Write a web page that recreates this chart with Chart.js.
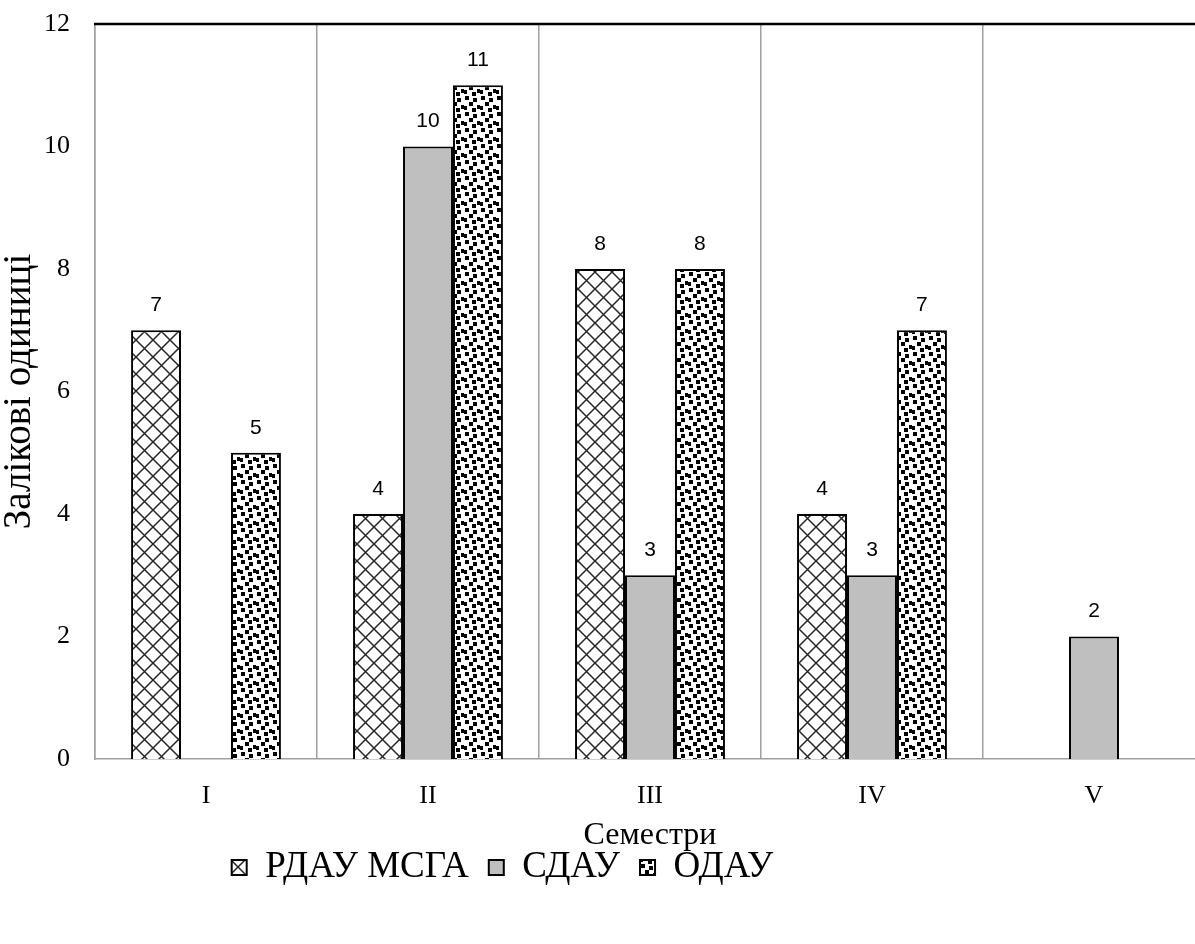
<!DOCTYPE html>
<html>
<head>
<meta charset="utf-8">
<script src="https://cdn.jsdelivr.net/npm/chart.js@4.4.0/dist/chart.umd.min.js"></script>
<style>
html, body { margin: 0; padding: 0; background: #fff; overflow: hidden; }
</style>
</head>
<body>
<canvas id="myChart" width="1215" height="944"></canvas>
<script>
// Data
const semesters = ['I', 'II', 'III', 'IV', 'V'];
const rdauValues = [7, 4, 8, 4, null];
const sdauValues = [null, 10, 3, 3, 2];
const odauValues = [5, 11, 8, 7, null];
const seriesNames = ['РДАУ МСГА', 'СДАУ', 'ОДАУ'];
const yMax = 12;
const yStep = 2;

const ctx = document.getElementById('myChart');
const serif = '"Liberation Serif", "Times New Roman", serif';

// Crosshatch fill
function crossPattern() {
    const c = document.createElement('canvas');
    c.width = 17; c.height = 17;
    const g = c.getContext('2d');
    g.fillStyle = '#fff';
    g.fillRect(0, 0, 17, 17);
    g.strokeStyle = '#262626';
    g.lineWidth = 1.5;
    g.beginPath();
    g.moveTo(0, 0); g.lineTo(17, 17);
    g.moveTo(17, 0); g.lineTo(0, 17);
    g.stroke();
    return g.createPattern(c, 'repeat');
}

// Confetti-like fill (small black squares)
function dotPattern() {
    const c = document.createElement('canvas');
    c.width = 16; c.height = 16;
    const g = c.getContext('2d');
    g.fillStyle = '#fff';
    g.fillRect(0, 0, 16, 16);
    g.fillStyle = '#000';
    g.fillRect(1, 0, 4, 4);
    g.fillRect(9, 2, 4, 4);
    g.fillRect(5, 6, 4, 4);
    g.fillRect(13, 9, 3, 4);
    g.fillRect(0, 10, 3, 4);
    g.fillRect(8, 12, 4, 4);
    return g.createPattern(c, 'repeat');
}

// numbers above the bars
const valueLabels = {
    id: 'valueLabels',
    afterDatasetsDraw(chart) {
        const c = chart.ctx;
        c.save();
        c.font = '21px "Liberation Sans", "Open Sans", sans-serif';
        c.fillStyle = '#000';
        c.textAlign = 'center';
        c.textBaseline = 'middle';
        chart.data.datasets.forEach(function(ds, i) {
            chart.getDatasetMeta(i).data.forEach(function(bar, j) {
                const v = ds.data[j];
                if (v === null) return;
                c.fillText(String(v), bar.x, bar.y - 25);
            });
        });
        c.restore();
    }
};

// black line along the top of the plot area
const topLine = {
    id: 'topLine',
    afterDraw(chart) {
        const a = chart.chartArea;
        const c = chart.ctx;
        c.save();
        c.strokeStyle = '#000';
        c.lineWidth = 2.5;
        c.beginPath();
        c.moveTo(a.left - 1, a.top);
        c.lineTo(a.right, a.top);
        c.stroke();
        c.restore();
    }
};

// the legend sits left of the canvas centre in the reference
const legendShift = {
    id: 'legendShift',
    afterLayout(chart) {
        chart.legend.left -= 100;
        chart.legend.right -= 100;
    }
};

Chart.defaults.color = '#000';

const myChart = new Chart(ctx, {
    type: 'bar',
    data: {
        labels: semesters,
        datasets: [
            {
                label: seriesNames[0],
                data: rdauValues,
                backgroundColor: crossPattern(),
                borderColor: '#000',
                borderWidth: 2
            },
            {
                label: seriesNames[1],
                data: sdauValues,
                backgroundColor: '#bfbfbf',
                borderColor: '#000',
                borderWidth: 2
            },
            {
                label: seriesNames[2],
                data: odauValues,
                backgroundColor: dotPattern(),
                borderColor: '#000',
                borderWidth: 2
            }
        ]
    },
    options: {
        responsive: false,
        animation: false,
        categoryPercentage: 0.675,
        barPercentage: 1,
        layout: { padding: { top: 0, right: 10, bottom: 48, left: 0 } },
        scales: {
            x: {
                offset: true,
                grid: {
                    display: true,
                    offset: true,
                    color: '#a0a0a0',
                    lineWidth: 1.5,
                    drawTicks: false
                },
                border: { display: true, color: '#a0a0a0', width: 1.5 },
                ticks: {
                    padding: 22,
                    font: { family: serif, size: 26 }
                },
                title: {
                    display: true,
                    text: 'Семестри',
                    padding: { top: 0, bottom: -26 },
                    font: { family: serif, size: 32 }
                },
                afterFit: function(scale) { scale.height = 70; }
            },
            y: {
                min: 0,
                max: yMax,
                grid: { display: false, drawTicks: false },
                border: { display: true, color: '#a0a0a0', width: 1.5 },
                ticks: {
                    stepSize: yStep,
                    padding: 25,
                    font: { family: serif, size: 26 }
                },
                title: {
                    display: true,
                    text: 'Залікові одиниці',
                    padding: { top: -4, bottom: 0 },
                    font: { family: serif, size: 39 }
                },
                afterFit: function(scale) {
                    scale.width = 95;
                    scale.paddingTop = 24;
                    scale.paddingBottom = 0;
                }
            }
        },
        plugins: {
            legend: {
                position: 'bottom',
                labels: {
                    boxWidth: 15,
                    boxHeight: 15,
                    padding: 20,
                    font: { family: serif, size: 37 }
                }
            },
            tooltip: { enabled: false }
        }
    },
    plugins: [valueLabels, topLine, legendShift]
});
</script>
</body>
</html>
